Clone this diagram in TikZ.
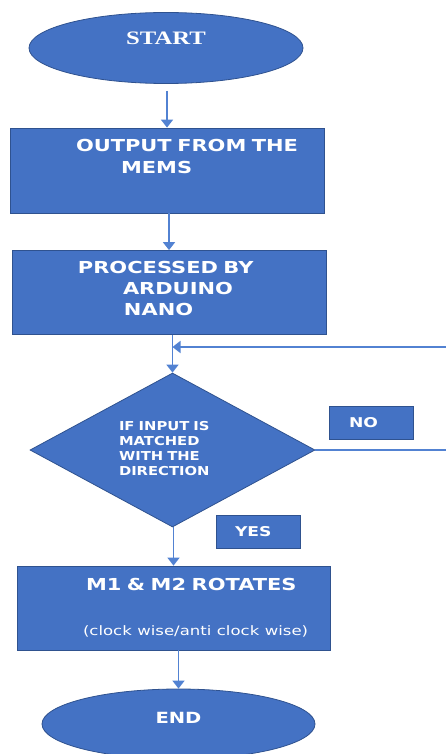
\documentclass[tikz,border=0pt]{standalone}
\usepackage{fontspec}
\usepackage{xcolor}
\usetikzlibrary{arrows.meta, shapes.geometric}
\definecolor{boxblue}{HTML}{4472C4}
\definecolor{edgeblue}{HTML}{2F528F}
\definecolor{lineblue}{HTML}{5282D2}
\newfontfamily\boxfont[FakeStretch=1.27]{DejaVu Sans}
\newfontfamily\choicefont[FakeStretch=1.2]{DejaVu Sans}
\newfontfamily\headfont[FakeStretch=1.3]{Liberation Serif}

\begin{document}
\begin{tikzpicture}[x=1pt, y=-1pt,
box/.style={draw=edgeblue, 
fill=boxblue, 
line width=0.8pt, 
rectangle, 
text=white, 
inner sep=0pt, 
align=left, 
font=\boxfont\bfseries\fontsize{16.5}{21}\selectfont}, 
oval/.style={draw=edgeblue, 
fill=boxblue, 
line width=0.8pt, 
ellipse, 
minimum width=274pt, 
minimum height=71pt, 
text=white}, 
choice/.style={draw=edgeblue, 
fill=boxblue, 
line width=0.8pt, 
diamond, 
aspect=1.85, 
minimum width=285pt, 
minimum height=154pt, 
inner sep=0pt, 
text width=107pt, 
align=left, 
text=white, 
font=\choicefont\bfseries\fontsize{12.3}{15.2}\selectfont}, 
tag/.style={draw=edgeblue, 
fill=boxblue, 
line width=0.8pt, 
minimum width=84pt, 
minimum height=33pt, 
inner sep=0pt, 
text width=84pt, 
align=left, 
text=white, 
font=\boxfont\bfseries\fontsize{13.5}{16}\selectfont}, 
arrow/.style={-{Triangle[width=12pt, length=8pt]}, line width=1.6pt, draw=lineblue} 
]
\useasboundingbox (0,0) rectangle (446,754);

\node[oval, font=\headfont\bfseries\fontsize{19}{22}\selectfont, text height=12.6pt, text depth=19pt] (start) at (166,48) {START}; 
\node[box, minimum width=314pt, minimum height=85pt, text width=314pt, text height=12pt, text depth=49pt] (mems) at (167,170.5) {\hspace*{66pt}OUTPUT FROM THE\\\hspace*{111pt}MEMS}; 
\node[box, minimum width=314pt, minimum height=84pt, text width=314pt, text height=12pt, text depth=51pt] (nano) at (169,292.5) {\hspace*{66pt}PROCESSED BY\\\hspace*{111pt}ARDUINO\\\hspace*{112pt}NANO}; 
\node[choice, text height=9pt, text depth=49pt] (check) at (172.5,450) {IF INPUT IS\\MATCHED\\WITH THE\\DIRECTION}; 
\node[tag] (no) at (371,422.5) {\hspace*{20pt}NO}; 
\node[tag] (yes) at (258,531.5) {\hspace*{19pt}YES}; 
\node[box, minimum width=313pt, minimum height=84pt, text width=313pt, text height=11pt, text depth=47pt] (turn) at (173.5,608) {\hspace*{69pt}M1 \& M2 ROTATES\\[24pt]\hspace*{66pt}{\mdseries\fontsize{13}{21}\selectfont (clock wise/anti clock wise)}}; 
\node[oval, font=\boxfont\bfseries\fontsize{15.4}{18}\selectfont, minimum width=273pt, minimum height=70pt, text height=11.2pt, text depth=13pt] (stop) at (178.5,724) {END};

\coordinate (join) at (172.5,347); 
\coordinate (back) at (449,450);

\draw[arrow, shorten <=7pt] (mems.north |- start.south) -- (mems.north); 
\draw[arrow] (nano.north |- mems.south) -- (nano.north); 
\draw[arrow] (check.north |- nano.south) -- (check.north); 
\draw[arrow] (check.east) -- (back) |- (join); 
\draw[arrow] (turn.north |- check.south) -- (turn.north); 
\draw[arrow] (stop.north |- turn.south) -- (stop.north);

\end{tikzpicture}
\end{document}
